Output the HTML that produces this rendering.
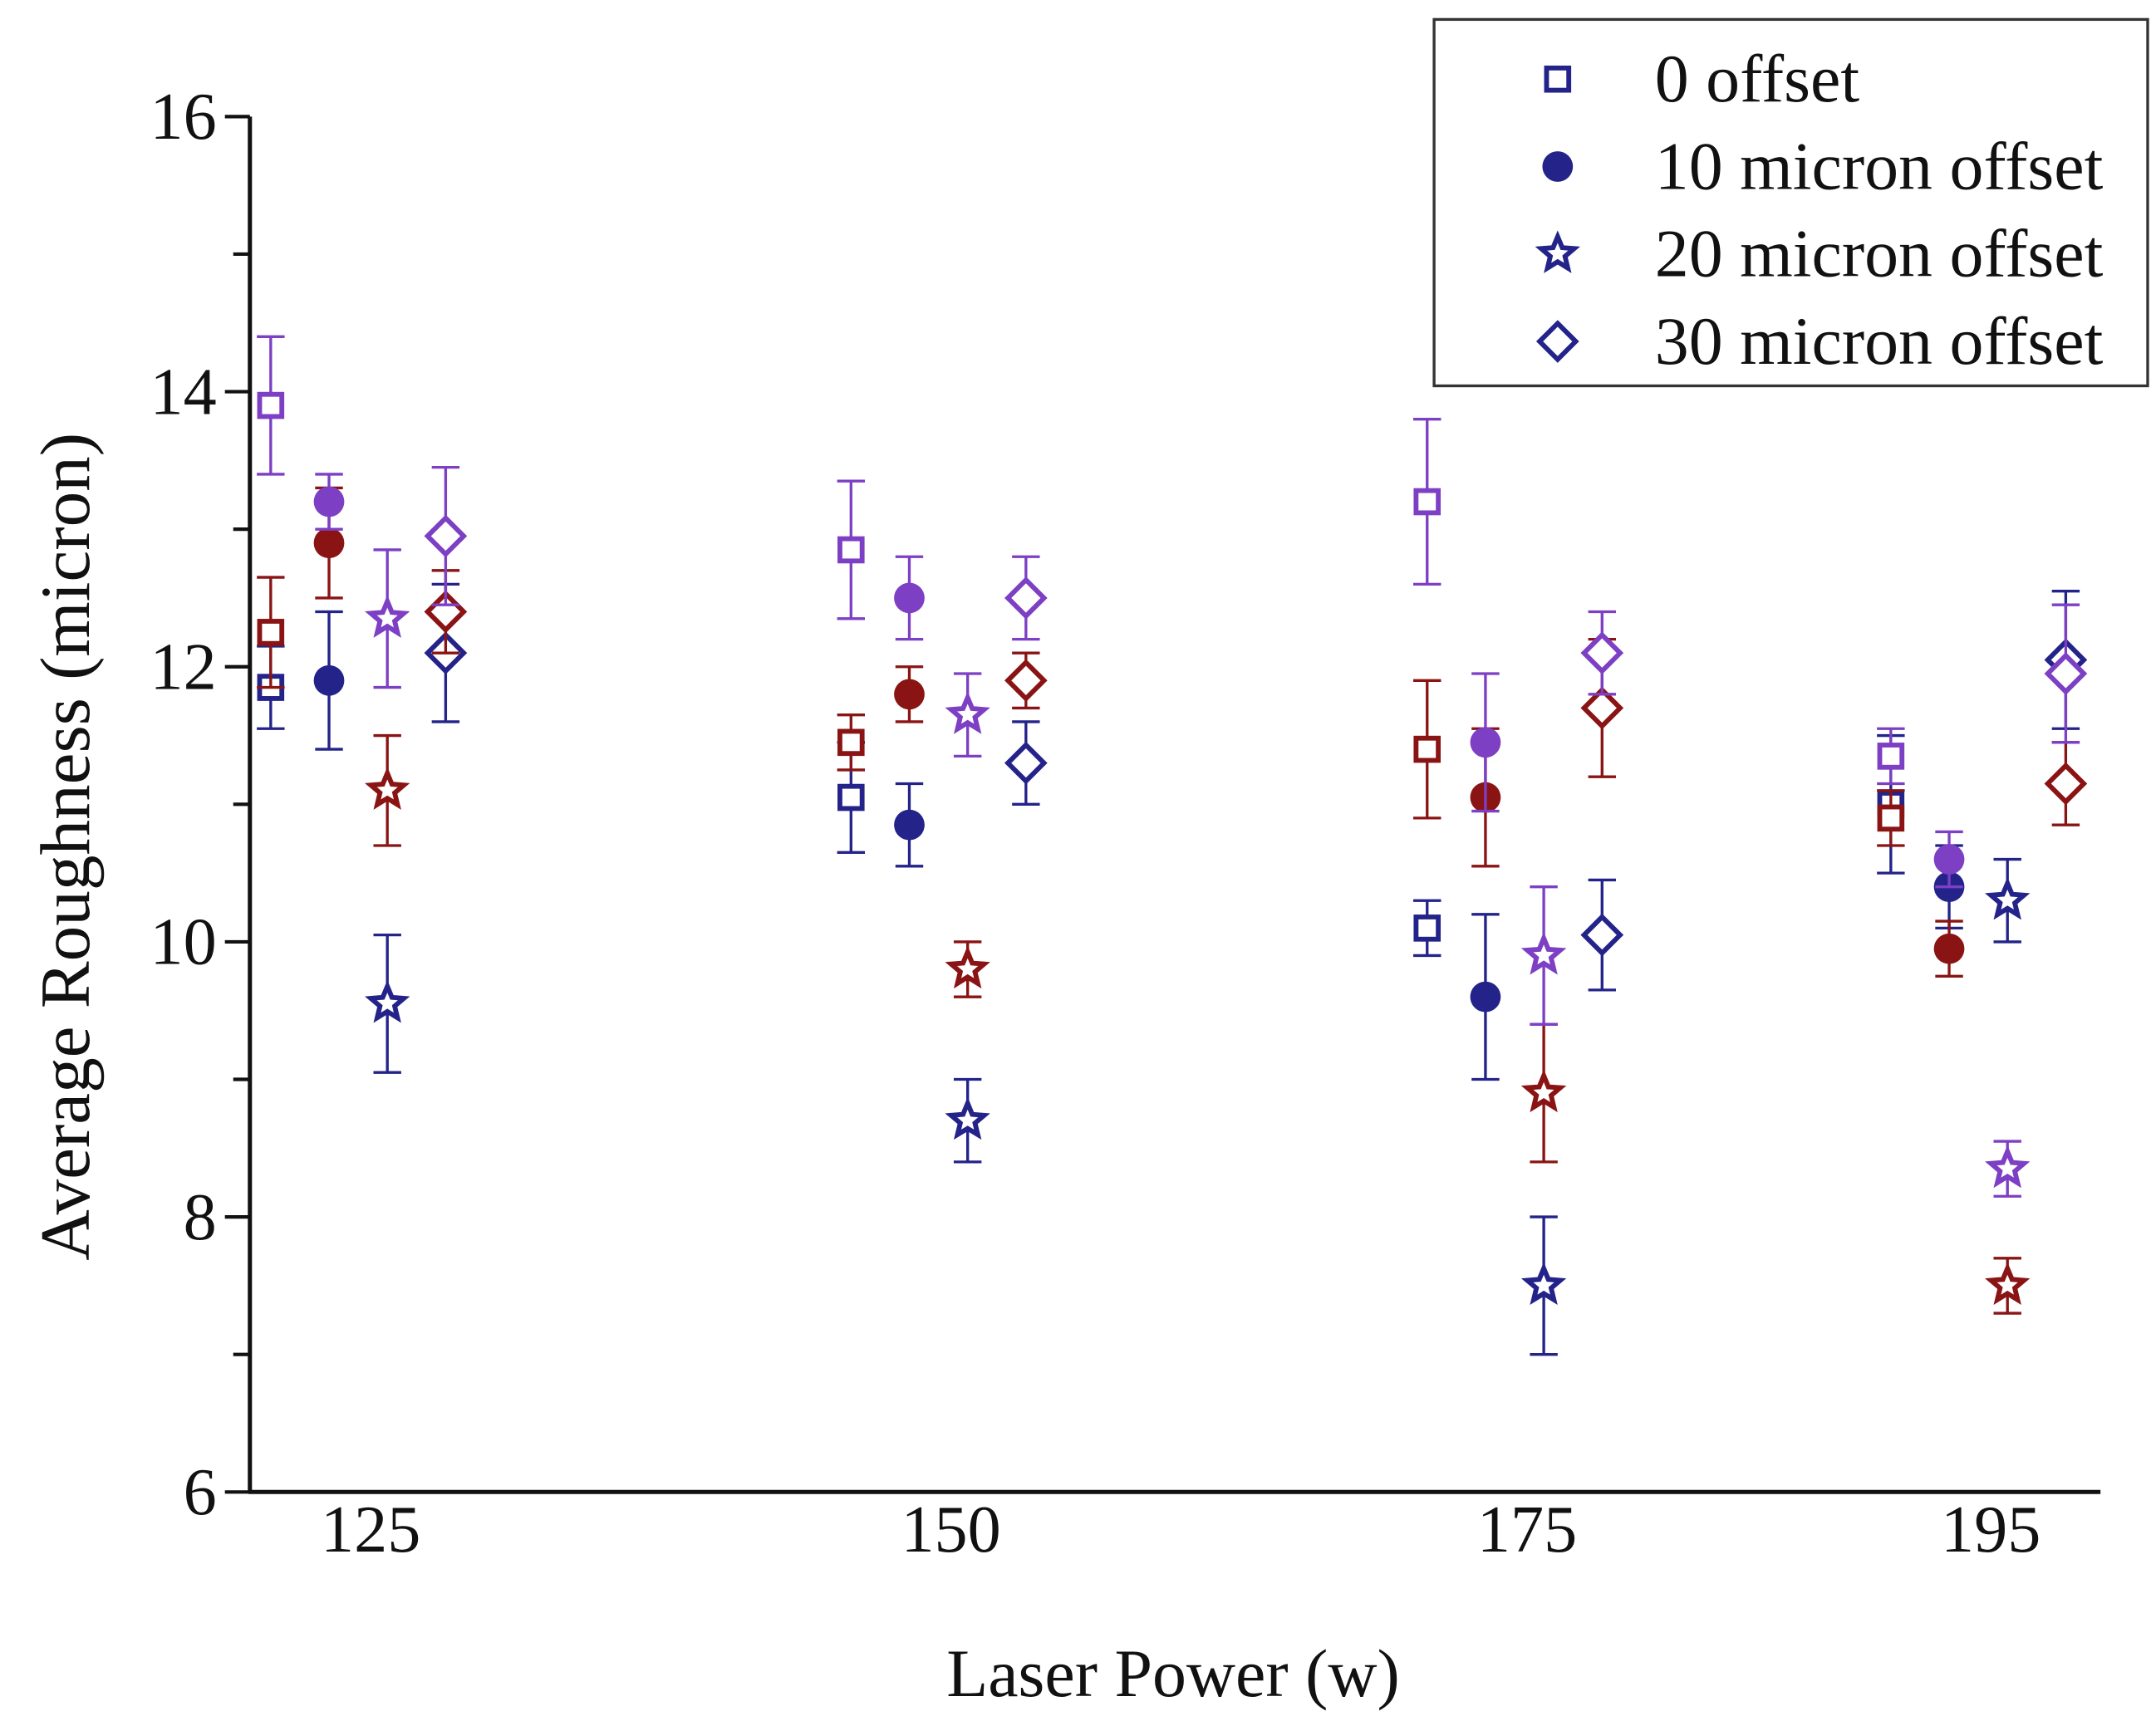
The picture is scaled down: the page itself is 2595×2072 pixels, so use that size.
<!DOCTYPE html>
<html><head><meta charset="utf-8"><style>
html,body{margin:0;padding:0;background:#fff}
svg{display:block}
text{font-family:"Liberation Serif",serif;fill:#111}
</style></head><body>
<svg id="chart" width="2595" height="2072" viewBox="0 0 1553 1240" xmlns="http://www.w3.org/2000/svg">
<g id="axes"></g><g id="marks"></g><g id="legend"></g>
</svg>
<script>
const categories = ["125","150","175","195"];
const yTicks = [6,8,10,12,14,16];
const seriesNames = ["0 offset","10 micron offset","20 micron offset","30 micron offset"];
const squarePurple = [13.9,12.85,13.2,11.35], squarePurpleErr=[0.5,0.5,0.6,0.2];
const squareRed = [12.25,11.45,11.4,10.9], squareRedErr=[0.4,0.2,0.5,0.2];
const squareBlue = [11.85,11.05,10.1,11.0], squareBlueErr=[0.3,0.4,0.2,0.5];
const circlePurple = [13.2,12.5,11.45,10.6], circlePurpleErr=[0.2,0.3,0.5,0.2];
const circleRed = [12.9,11.8,11.05,9.95], circleRedErr=[0.4,0.2,0.5,0.2];
const circleBlue = [11.9,10.85,9.6,10.4], circleBlueErr=[0.5,0.3,0.6,0.3];
const starPurple = [12.35,11.65,9.9,8.35], starPurpleErr=[0.5,0.3,0.5,0.2];
const starRed = [11.1,9.8,8.9,7.5], starRedErr=[0.4,0.2,0.5,0.2];
const starBlue = [9.55,8.7,7.5,10.3], starBlueErr=[0.5,0.3,0.5,0.3];
const diamondPurple = [12.95,12.5,12.1,11.95], diamondPurpleErr=[0.5,0.3,0.3,0.5];
const diamondRed = [12.4,11.9,11.7,11.15], diamondRedErr=[0.3,0.2,0.5,0.3];
const diamondBlue = [12.1,11.3,10.05,12.05], diamondBlueErr=[0.5,0.3,0.4,0.5];

const NS="http://www.w3.org/2000/svg";
const C={purple:"#7d3fc4",red:"#8a1414",blue:"#23238a"};
const catX=[279,697,1112,1446];
function xPos(i){return catX[i];}
function yPos(v){return 1075-(v-6)*99.1;}
function mk(tag,attrs,parent){const e=document.createElementNS(NS,tag);for(const k in attrs)e.setAttribute(k,attrs[k]);parent.appendChild(e);return e;}
const axes=document.getElementById('axes'),marks=document.getElementById('marks'),leg=document.getElementById('legend');

let a=mk('line',{x1:180,y1:84,x2:180,y2:1076,stroke:'#111','stroke-width':3},axes);


a=mk('line',{x1:179,y1:1075,x2:1513,y2:1075,stroke:'#111','stroke-width':3},axes);


for(let v=6;v<=16;v++){
  const t=mk('line',{x1:(v%2===0?162:168),y1:yPos(v),x2:180,y2:yPos(v),stroke:'#111','stroke-width':2.5},axes);
  
  
}
yTicks.forEach(v=>{
  const t=mk('text',{x:156,y:yPos(v)+16,'text-anchor':'end','font-size':48},axes);t.textContent=v;
  
  
});
categories.forEach((c,i)=>{
  const t=mk('text',{x:xPos(i)-12,y:1118,'text-anchor':'middle','font-size':48},axes);t.textContent=c;
  
  
});
let t=mk('text',{x:845,y:1222,'text-anchor':'middle','font-size':49},axes);t.textContent="Laser Power (w)";


t=mk('text',{x:0,y:0,'text-anchor':'middle','font-size':51,transform:'translate(64,610) rotate(-90)'},axes);t.textContent="Average Roughness (micron)";



function starPts(cx,cy,R){let p=[];for(let k=0;k<10;k++){const r=k%2?R*0.45:R;const an=-Math.PI/2+k*Math.PI/5;p.push((cx+r*Math.cos(an)).toFixed(1)+','+(cy+r*Math.sin(an)).toFixed(1));}return p.join(' ');}
function marker(shape,cx,cy,col,parent){
  if(shape==='square')return mk('rect',{x:cx-8,y:cy-8,width:16,height:16,fill:'#fff',stroke:col,'stroke-width':3.5},parent);
  if(shape==='circle')return mk('circle',{cx:cx,cy:cy,r:11,fill:col},parent);
  if(shape==='star')return mk('polygon',{points:starPts(cx,cy,12.5),fill:'#fff',stroke:col,'stroke-width':3.5,'stroke-linejoin':'miter'},parent);
  return mk('polygon',{points:`${cx},${cy-13} ${cx+13},${cy} ${cx},${cy+13} ${cx-13},${cy}`,fill:'#fff',stroke:col,'stroke-width':3.5},parent);
}
const shapeOff={square:-84,circle:-42,star:0,diamond:42};
const groups=[
 ['square','blue',squareBlue,squareBlueErr],['square','red',squareRed,squareRedErr],['square','purple',squarePurple,squarePurpleErr],
 ['circle','blue',circleBlue,circleBlueErr],['circle','red',circleRed,circleRedErr],['circle','purple',circlePurple,circlePurpleErr],
 ['star','blue',starBlue,starBlueErr],['star','red',starRed,starRedErr],['star','purple',starPurple,starPurpleErr],
 ['diamond','blue',diamondBlue,diamondBlueErr],['diamond','red',diamondRed,diamondRedErr],['diamond','purple',diamondPurple,diamondPurpleErr]];
groups.forEach(([shape,cn,vals,errs])=>{
  const col=C[cn];
  vals.forEach((v,i)=>{
    const cx=xPos(i)+shapeOff[shape],cy=yPos(v),yt=yPos(v+errs[i]),yb=yPos(v-errs[i]);
    const g=mk('g',{},marks);
    
    
    mk('line',{x1:cx,y1:yt,x2:cx,y2:yb,stroke:col,'stroke-width':2},g);
    mk('line',{x1:cx-10,y1:yt,x2:cx+10,y2:yt,stroke:col,'stroke-width':2},g);
    mk('line',{x1:cx-10,y1:yb,x2:cx+10,y2:yb,stroke:col,'stroke-width':2},g);
    marker(shape,cx,cy,col,g);
  });
});
const lb=mk('rect',{x:1033,y:14,width:514,height:264,fill:'#fff',stroke:'#333','stroke-width':2},leg);


['square','circle','star','diamond'].forEach((s,k)=>{
  const y=57+k*63;
  const g=mk('g',{},leg);
  
  
  marker(s,1122,y,C.blue,g);
  const tx=mk('text',{x:1192,y:y+16,'font-size':49},g);tx.textContent=seriesNames[k];
});
</script>
</body></html>
